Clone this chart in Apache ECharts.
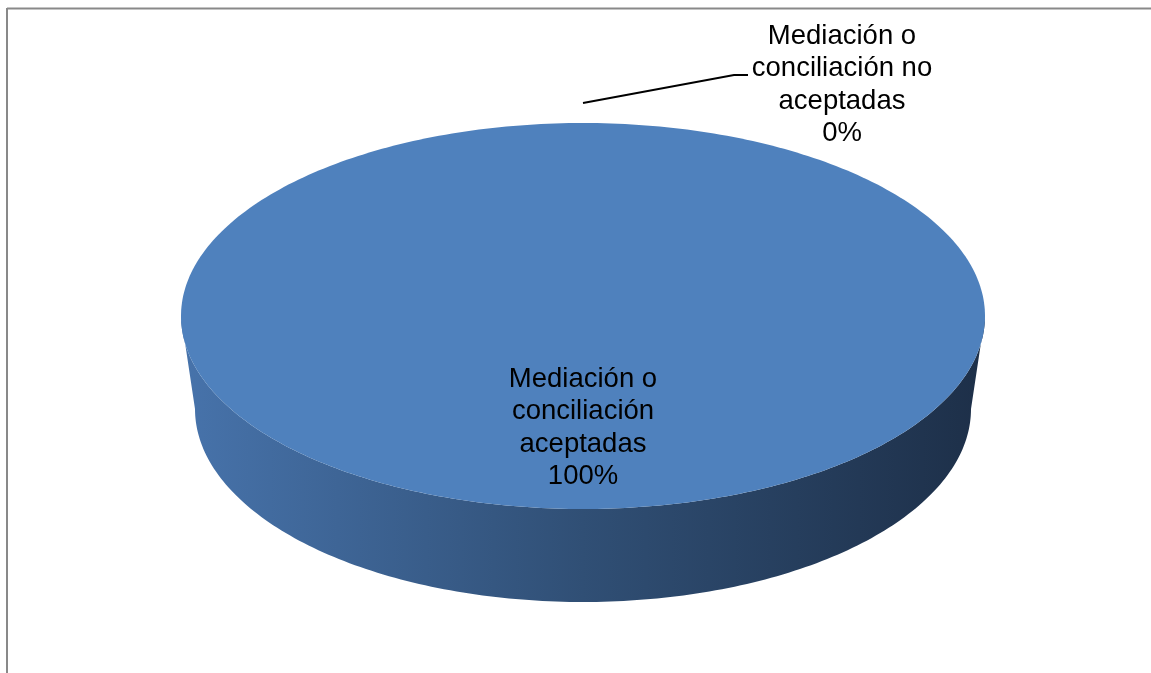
<!DOCTYPE html>
<html>
<head>
<meta charset="utf-8">
<title>Mediación o conciliación</title>
<script src="https://cdn.jsdelivr.net/npm/echarts@6/dist/echarts.min.js"></script>
<style>
  html, body { margin: 0; padding: 0; background: #fff; }
  #chart { width: 1151px; height: 673px; }
</style>
</head>
<body>
<div id="chart"></div>
<script>
// data
const categories = ["Mediación o\nconciliación\naceptadas", "Mediación o\nconciliación no\naceptadas"]
const values = [100, 0]

// geometry of the 3d pie (layout only)
const cx = 583, cy = 316
const rx = 402, ry = 193
const rxBottom = 388, depth = 93
const topColor = "#4f81bd"
const sideGradient = {
  type: "linear", x: cx - rx, y: 0, x2: cx + rx, y2: 0, global: true,
  colorStops: [
    { offset: 0, color: "#4773ab" },
    { offset: 0.5, color: "#304f75" },
    { offset: 1, color: "#1d2f48" }
  ]
}
const textStyle = { fill: "#000", fontSize: 27.5, fontFamily: "Liberation Sans, Arial, sans-serif", lineHeight: 32.5, align: "center", verticalAlign: "middle" }

const total = values.reduce((a, b) => a + b, 0)

// angle measured clockwise from 12 o'clock
const pt = (t, r, yc) => [cx + r * Math.sin(t), yc - ry * Math.cos(t)]
const arc = (a, b, r, yc) => {
  const n = Math.max(2, Math.ceil(Math.abs(b - a) / (Math.PI / 180)))
  const pts = []
  for (let k = 0; k <= n; k++) pts.push(pt(a + (b - a) * k / n, r, yc))
  return pts
}

const label = (text, x, y) => ({
  type: "text",
  style: Object.assign({ text, x, y }, textStyle),
  z2: 10
})

const renderItem = (params, api) => {
  const i = params.dataIndex
  const before = values.slice(0, i).reduce((a, b) => a + b, 0)
  const start = before / total * Math.PI * 2
  const end = start + values[i] / total * Math.PI * 2
  const mid = (start + end) / 2
  const share = values[i] / total
  const children = []

  if (share > 0) {
    // front side wall
    const a = Math.max(start, Math.PI / 2), b = Math.min(end, Math.PI * 1.5)
    if (b > a) {
      const pts = arc(a, b, rx, cy).concat(arc(b, a, rxBottom, cy + depth))
      children.push({ type: "polygon", shape: { points: pts }, style: { fill: sideGradient }, z2: 1 })
    }
    // top face
    const top = (share >= 1 ? [] : [[cx, cy]]).concat(arc(start, end, rx, cy))
    children.push({ type: "polygon", shape: { points: top }, style: { fill: topColor }, z2: 2 })
  }

  const text = categories[i] + "\n" + Math.round(share * 100) + "%"
  if (share >= 0.05) {
    const p = [cx + rx * 0.58 * Math.sin(mid), cy - ry * 0.58 * Math.cos(mid)]
    children.push(label(text, p[0], p[1]))
  } else {
    // outside label with leader line
    const p = [cx + rx * Math.sin(mid), cy - (ry + 20) * Math.cos(mid)]
    const knee = [p[0] + 151, p[1] - 28]
    children.push({
      type: "polyline",
      shape: { points: [p, knee, [knee[0] + 14, knee[1]]] },
      style: { stroke: "#000", lineWidth: 1.8, fill: null },
      z2: 10
    })
    children.push(label(text, p[0] + 259, p[1] - 18))
  }
  return { type: "group", children }
}

const chart = echarts.init(document.getElementById("chart"))
chart.setOption({
  animation: false,
  graphic: [
    { type: "line", shape: { x1: 7, y1: 8.5, x2: 1151, y2: 8.5 }, style: { stroke: "#898989", lineWidth: 2 } },
    { type: "line", shape: { x1: 7, y1: 8, x2: 7, y2: 673 }, style: { stroke: "#898989", lineWidth: 2 } }
  ],
  series: [
    {
      type: "custom",
      coordinateSystem: "none",
      renderItem,
      data: values.map((v, i) => ({ name: categories[i], value: [v] }))
    }
  ]
})
</script>
</body>
</html>
